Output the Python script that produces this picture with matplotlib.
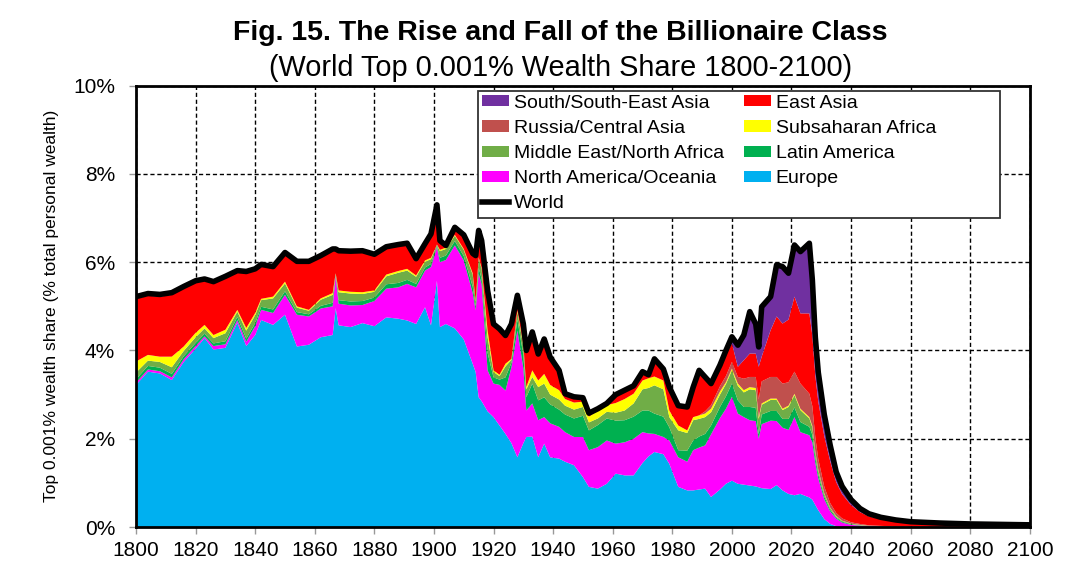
import numpy as np
import matplotlib
matplotlib.use("Agg")
import matplotlib.pyplot as plt
from matplotlib.patches import Patch, Rectangle
from matplotlib.lines import Line2D
from matplotlib.ticker import FuncFormatter

plt.rcParams['font.family'] = ['Liberation Sans', 'DejaVu Sans']

years = [1800, 1804, 1808, 1812, 1816, 1820, 1823, 1826, 1830, 1834, 1837, 1840, 1842, 1846,
         1850, 1854, 1858, 1862, 1866, 1867, 1868, 1872, 1876, 1880, 1884, 1888, 1891, 1894,
         1897, 1899, 1901, 1902, 1904, 1907, 1910, 1913, 1914, 1915, 1916, 1918, 1920, 1922,
         1924, 1926, 1928, 1930, 1931, 1933, 1935, 1937, 1939, 1942, 1944, 1947, 1950, 1952,
         1955, 1958, 1961, 1964, 1967, 1970, 1972, 1974, 1977, 1979, 1982, 1985, 1987, 1989,
         1991, 1993, 1996, 1998, 2000, 2002, 2004, 2006, 2008, 2009, 2010, 2013, 2015, 2017,
         2019, 2021, 2023, 2026, 2027, 2028, 2029, 2031, 2033, 2035, 2037, 2040, 2043, 2046,
         2050, 2055, 2060, 2070, 2080, 2090, 2100]

europe = [3.22, 3.52, 3.48, 3.33, 3.74, 4.04, 4.28, 4.02, 4.06, 4.63, 4.10, 4.35, 4.69, 4.58,
          4.81, 4.09, 4.13, 4.30, 4.35, 4.96, 4.57, 4.53, 4.62, 4.55, 4.75, 4.72, 4.68, 4.60,
          4.98, 4.57, 5.58, 4.53, 4.60, 4.50, 4.25, 3.70, 3.51, 2.94, 2.85, 2.62, 2.49, 2.30,
          2.11, 1.90, 1.58, 1.90, 2.04, 2.05, 1.58, 1.89, 1.58, 1.55, 1.48, 1.40, 1.13, 0.91,
          0.87, 0.98, 1.21, 1.17, 1.17, 1.45, 1.60, 1.70, 1.65, 1.43, 0.91, 0.83, 0.83, 0.85,
          0.87, 0.68, 0.85, 0.98, 1.05, 0.98, 0.96, 0.94, 0.92, 0.90, 0.88, 0.86, 0.95, 0.83,
          0.75, 0.72, 0.75, 0.67, 0.62, 0.50, 0.38, 0.18, 0.07, 0.02, 0.0, 0.0, 0.0, 0.0,
          0.0, 0.0, 0.0, 0.0, 0.0, 0.0, 0.0]

north_america = [0.05, 0.05, 0.05, 0.06, 0.06, 0.06, 0.04, 0.08, 0.08, 0.06, 0.10, 0.20, 0.23, 0.27,
                 0.45, 0.72, 0.64, 0.65, 0.65, 0.72, 0.49, 0.49, 0.41, 0.57, 0.65, 0.71, 0.83, 0.83,
                 0.83, 1.32, 0.76, 1.47, 1.45, 1.88, 1.79, 1.60, 1.40, 2.80, 2.65, 0.93, 0.76, 0.92,
                 0.98, 1.72, 2.87, 1.70, 0.60, 0.75, 0.84, 0.60, 0.77, 0.72, 0.67, 0.64, 0.91, 0.83,
                 0.94, 0.98, 0.68, 0.75, 0.83, 0.70, 0.52, 0.41, 0.39, 0.53, 0.67, 0.65, 0.91, 0.95,
                 0.98, 1.42, 1.62, 1.70, 1.90, 1.59, 1.53, 1.48, 1.48, 1.10, 1.45, 1.55, 1.45, 1.42,
                 1.45, 1.77, 1.40, 1.41, 1.30, 0.95, 0.72, 0.45, 0.28, 0.17, 0.10, 0.05, 0.03, 0.015,
                 0.01, 0.005, 0.003, 0.002, 0.001, 0.001, 0.0]

latin_america = [0.08, 0.08, 0.08, 0.08, 0.07, 0.07, 0.06, 0.06, 0.07, 0.07, 0.07, 0.07, 0.07, 0.08,
                 0.08, 0.06, 0.05, 0.06, 0.08, 0.02, 0.08, 0.09, 0.09, 0.08, 0.10, 0.10, 0.09, 0.08,
                 0.07, 0.07, 0.03, 0.10, 0.10, 0.10, 0.10, 0.15, 0.08, 0.13, 0.13, 0.40, 0.14, 0.12,
                 0.30, 0.10, 0.25, 0.30, 0.30, 0.45, 0.45, 0.45, 0.43, 0.39, 0.40, 0.42, 0.48, 0.45,
                 0.50, 0.50, 0.52, 0.50, 0.50, 0.49, 0.52, 0.46, 0.46, 0.30, 0.16, 0.25, 0.22, 0.25,
                 0.26, 0.20, 0.25, 0.28, 0.30, 0.30, 0.23, 0.30, 0.30, 0.10, 0.22, 0.22, 0.23, 0.20,
                 0.25, 0.22, 0.23, 0.19, 0.17, 0.12, 0.09, 0.06, 0.04, 0.025, 0.02, 0.012, 0.008, 0.005,
                 0.003, 0.002, 0.001, 0.001, 0.001, 0.0, 0.0]

middle_east = [0.15, 0.12, 0.13, 0.15, 0.12, 0.13, 0.12, 0.12, 0.18, 0.12, 0.18, 0.18, 0.15, 0.25,
               0.18, 0.10, 0.08, 0.14, 0.18, 0.04, 0.18, 0.18, 0.16, 0.13, 0.18, 0.23, 0.21, 0.16,
               0.13, 0.11, 0.03, 0.15, 0.15, 0.12, 0.14, 0.27, 0.12, 0.22, 0.22, 0.35, 0.12, 0.08,
               0.25, 0.07, 0.18, 0.20, 0.18, 0.15, 0.30, 0.31, 0.22, 0.23, 0.20, 0.20, 0.20, 0.18,
               0.15, 0.15, 0.18, 0.22, 0.30, 0.48, 0.51, 0.64, 0.62, 0.23, 0.45, 0.40, 0.46, 0.40,
               0.38, 0.30, 0.28, 0.28, 0.30, 0.33, 0.33, 0.40, 0.40, 0.35, 0.22, 0.25, 0.25, 0.20,
               0.27, 0.28, 0.27, 0.19, 0.17, 0.12, 0.09, 0.06, 0.04, 0.025, 0.02, 0.012, 0.008, 0.005,
               0.003, 0.002, 0.001, 0.001, 0.001, 0.0, 0.0]

subsaharan = [0.25, 0.13, 0.12, 0.24, 0.10, 0.10, 0.08, 0.07, 0.08, 0.04, 0.06, 0.05, 0.03, 0.04,
              0.04, 0.03, 0.02, 0.03, 0.04, 0.01, 0.04, 0.04, 0.04, 0.03, 0.04, 0.04, 0.04, 0.03,
              0.03, 0.03, 0.00, 0.03, 0.03, 0.02, 0.02, 0.03, 0.02, 0.02, 0.02, 0.15, 0.04, 0.03,
              0.06, 0.02, 0.03, 0.04, 0.05, 0.15, 0.15, 0.22, 0.22, 0.21, 0.15, 0.16, 0.12, 0.13,
              0.18, 0.15, 0.22, 0.26, 0.22, 0.20, 0.22, 0.20, 0.20, 0.15, 0.11, 0.06, 0.07, 0.08,
              0.08, 0.08, 0.07, 0.04, 0.04, 0.05, 0.05, 0.05, 0.05, 0.04, 0.03, 0.03, 0.03, 0.03,
              0.03, 0.03, 0.03, 0.03, 0.03, 0.02, 0.02, 0.015, 0.01, 0.01, 0.005, 0.004, 0.003, 0.002,
              0.002, 0.001, 0.001, 0.001, 0.0, 0.0, 0.0]

russia = [0.0] * 70 + [0.05, 0.08, 0.12, 0.14, 0.15, 0.15, 0.26, 0.23, 0.25, 0.40, 0.50, 0.49,
                       0.49, 0.57, 0.53, 0.50, 0.57, 0.53, 0.45, 0.32, 0.24, 0.15, 0.10, 0.07,
                       0.05, 0.03, 0.02, 0.013, 0.008, 0.005, 0.004, 0.003, 0.002, 0.002, 0.001]

east_asia = [1.42, 1.34, 1.36, 1.40, 1.33, 1.16, 1.04, 1.21, 1.21, 0.89, 1.28, 1.00, 0.78, 0.68,
             0.66, 1.02, 1.10, 0.97, 1.00, 0.55, 0.90, 0.92, 0.94, 0.82, 0.63, 0.60, 0.58, 0.38,
             0.38, 0.54, 0.90, 0.21, 0.05, 0.17, 0.32, 0.45, 1.02, 0.61, 0.62, 0.91, 1.05, 1.04,
             0.64, 0.79, 0.34, 0.46, 0.83, 0.87, 0.60, 0.79, 0.63, 0.45, 0.12, 0.13, 0.09, 0.08,
             0.04, 0.04, 0.15, 0.15, 0.13, 0.17, 0.05, 0.35, 0.22, 0.50, 0.42, 0.50, 0.65, 0.99,
             0.75, 0.46, 0.45, 0.48, 0.42, 0.23, 0.42, 0.53, 0.53, 0.74, 0.56, 1.06, 1.37, 1.36,
             1.42, 1.70, 1.59, 1.82, 1.60, 1.40, 1.30, 1.15, 0.95, 0.70, 0.55, 0.39, 0.27, 0.20,
             0.15, 0.11, 0.085, 0.062, 0.05, 0.045, 0.039]

south_asia = [0.05, 0.05, 0.05, 0.05, 0.03, 0.02] + [0.0] * 52 + [
              0.04, 0.05, 0.05, 0.03, 0.03, 0.05, 0.04, 0.03, 0.03, 0.03, 0.03, 0.03,
              0.03, 0.03, 0.03, 0.10, 0.15, 0.49, 0.57, 0.95, 0.67, 0.45, 1.13, 0.76, 1.17, 1.29,
              1.05, 1.17, 1.40, 1.59, 1.26, 0.87, 0.66, 0.485, 0.36, 0.23, 0.175, 0.122, 0.081, 0.06,
              0.044, 0.035, 0.025, 0.02, 0.015, 0.012, 0.01]

world = [5.22, 5.29, 5.27, 5.31, 5.45, 5.58, 5.62, 5.56, 5.68, 5.81, 5.79, 5.85, 5.95, 5.90,
         6.22, 6.02, 6.02, 6.15, 6.30, 6.30, 6.26, 6.25, 6.26, 6.18, 6.35, 6.40, 6.43, 6.08,
         6.42, 6.64, 7.30, 6.49, 6.38, 6.79, 6.62, 6.20, 6.15, 6.72, 6.49, 5.36, 4.60, 4.49,
         4.34, 4.60, 5.25, 4.60, 4.00, 4.42, 3.92, 4.26, 3.85, 3.55, 3.02, 2.95, 2.93, 2.58,
         2.68, 2.80, 3.00, 3.10, 3.20, 3.52, 3.45, 3.81, 3.58, 3.17, 2.75, 2.72, 3.17, 3.55,
         3.40, 3.25, 3.67, 4.00, 4.31, 4.12, 4.35, 4.88, 4.60, 4.08, 4.99, 5.22, 5.94, 5.90,
         5.75, 6.39, 6.24, 6.43, 5.60, 4.30, 3.50, 2.55, 1.85, 1.25, 0.92, 0.62, 0.42, 0.30,
         0.22, 0.16, 0.12, 0.09, 0.07, 0.06, 0.05]

region_names = ["Europe", "North America/Oceania", "Latin America", "Middle East/North Africa",
                "Subsaharan Africa", "Russia/Central Asia", "East Asia", "South/South-East Asia"]
region_colors = ["#00B0F0", "#FF00FF", "#00B050", "#70AD47", "#FFFF00", "#C0504D", "#FF0000", "#7030A0"]
series = [europe, north_america, latin_america, middle_east, subsaharan, russia, east_asia, south_asia]

x_ticks = list(range(1800, 2101, 20))
y_ticks = [0, 2, 4, 6, 8, 10]

fig = plt.figure(figsize=(10.9, 5.71), dpi=100)
ax = fig.add_axes([0.1248, 0.077, 0.820, 0.773])

ax.stackplot(years, *series, colors=region_colors, linewidth=0, zorder=2)
ax.plot(years, world, color="black", linewidth=4, solid_joinstyle="round", zorder=3)

ax.set_xlim(1800, 2100)
ax.set_ylim(0, 10)
ax.set_xticks(x_ticks)
ax.set_yticks(y_ticks)
ax.yaxis.set_major_formatter(FuncFormatter(lambda v, p: f"{v:.0f}%"))
ax.grid(True, color="black", linestyle=(0, (3, 2)), linewidth=1.0)
for gl in ax.get_xgridlines() + ax.get_ygridlines():
    gl.set_zorder(1.5)
ax.tick_params(axis="both", labelsize=15, length=5, color="#999999", width=1)
ax.tick_params(axis="y", pad=10)
ax.tick_params(axis="x", pad=5)
for s in ax.spines.values():
    s.set_linewidth(2)
    s.set_color("black")
    s.set_zorder(4)

ax.set_ylabel("Top 0.001% wealth share (% total personal wealth)", fontsize=12.5, labelpad=10)

fig.text(0.514, 0.942, "Fig. 15. The Rise and Fall of the Billionaire Class",
         ha="center", va="center", fontsize=20.5, fontweight="bold")
fig.text(0.514, 0.881, "(World Top 0.001% Wealth Share 1800-2100)",
         ha="center", va="center", fontsize=20.8)

# legend frame (Excel-style box wider than its contents)
frame = Rectangle((0.3826, 0.7007), 0.5838, 0.288, transform=ax.transAxes,
                  facecolor="white", edgecolor="#333333", linewidth=1.3, zorder=4.5)
ax.add_patch(frame)

h = {n: Patch(facecolor=c, edgecolor="none") for n, c in zip(region_names, region_colors)}
world_handle = Line2D([], [], color="black", linewidth=4)
order = ["South/South-East Asia", "Russia/Central Asia", "Middle East/North Africa",
         "North America/Oceania"]
order2 = ["East Asia", "Subsaharan Africa", "Latin America", "Europe"]
handles = [h[n] for n in order] + [world_handle] + [h[n] for n in order2]
labels = order + ["World"] + order2
leg = ax.legend(handles, labels, ncol=2, loc="upper left",
                bbox_to_anchor=(0.3837, 0.986),
                fontsize=14, frameon=False, borderaxespad=0,
                handlelength=1.4, handleheight=0.5, handletextpad=0.25, labelspacing=0.42,
                columnspacing=1.0, borderpad=0.15)
leg.set_zorder(5)

fig.savefig("out.png", dpi=100)
